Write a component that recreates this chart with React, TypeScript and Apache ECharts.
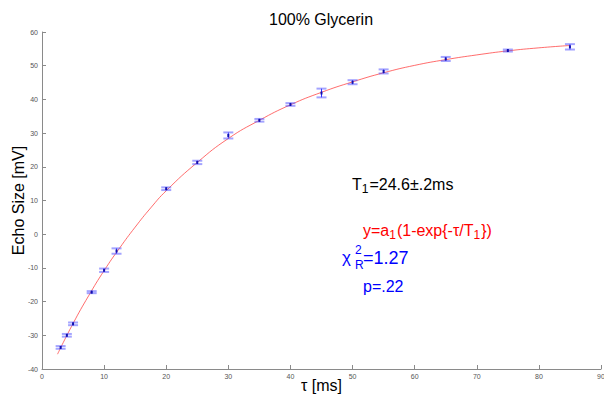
import React, { useEffect, useRef } from "react";
import * as echarts from "echarts";

const tau = [3, 4, 5, 8, 10, 12, 20, 25, 30, 35, 40, 45, 50, 55, 65, 75, 85];
const echo = [-33.6, -30.0, -26.6, -17.2, -10.7, -5.0, 13.5, 21.3, 29.3, 33.8, 38.5, 41.9, 45.1, 48.3, 52.0, 54.5, 55.6];
const err = [0.4, 0.4, 0.4, 0.3, 0.5, 0.8, 0.4, 0.5, 0.9, 0.4, 0.4, 1.3, 0.6, 0.6, 0.6, 0.3, 0.8];

const fitTau = [2.5, 5, 7.5, 10, 12.5, 15, 17.5, 20, 25, 30, 35, 40, 45, 50, 55, 60, 65, 70, 75, 80, 85];
const fitEcho = [-35.6, -26.5, -18.3, -10.8, -4.1, 2.1, 7.8, 12.9, 21.3, 28.4, 33.8, 38.4, 42.1, 45.2, 47.9, 50.1, 51.8, 53.2, 54.4, 55.3, 56.0];

const xTicks = { min: 0, max: 90, interval: 10 };
const yTicks = { min: -40, max: 60, interval: 10 };

const FONT = "'Liberation Sans', Arial, sans-serif";

export default function App() {
  const ref = useRef<HTMLDivElement>(null);
  useEffect(() => {
    if (!ref.current) return;
    const chart = echarts.init(ref.current, null, { renderer: "svg" });
    const pts = tau.map((t, i) => [t, echo[i], err[i]]);
    const fit = fitTau.map((t, i) => [t, fitEcho[i]]);
    const axisLine = { show: true, onZero: false, lineStyle: { color: "#8a8a8a", width: 1 } };
    const axisTick = { show: true, inside: true, length: 4, lineStyle: { color: "#8a8a8a" } };
    const axisLabel = { fontSize: 7, color: "#555", fontFamily: FONT, margin: 4 };
    chart.setOption({
      animation: false,
      backgroundColor: "#fff",
      title: {
        text: "100% Glycerin",
        left: 316,
        textAlign: "center",
        top: 6,
        textStyle: { fontSize: 16, fontWeight: "normal", color: "#000", fontFamily: FONT },
      },
      grid: { left: 42, right: 3, top: 32, bottom: 33, containLabel: false, outerBoundsMode: "none" },
      xAxis: {
        type: "value",
        min: xTicks.min,
        max: xTicks.max,
        interval: xTicks.interval,
        name: "τ [ms]",
        nameLocation: "middle",
        nameGap: 8,
        nameMoveOverlap: false,
        nameTextStyle: { fontSize: 16, color: "#000", fontFamily: FONT, verticalAlign: "top" },
        axisLine,
        axisTick,
        axisLabel,
        splitLine: { show: false },
      },
      yAxis: {
        type: "value",
        min: yTicks.min,
        max: yTicks.max,
        interval: yTicks.interval,
        name: "Echo Size [mV]",
        nameLocation: "middle",
        nameGap: 16,
        nameMoveOverlap: false,
        nameTextStyle: { fontSize: 16, color: "#000", fontFamily: FONT },
        axisLine,
        axisTick,
        axisLabel,
        splitLine: { show: false },
      },
      series: [
        {
          type: "line",
          data: fit,
          smooth: true,
          showSymbol: false,
          symbol: "none",
          lineStyle: { color: "rgba(255,60,60,0.75)", width: 1 },
          z: 2,
        },
        {
          type: "custom",
          data: pts,
          encode: { x: 0, y: 1 },
          z: 3,
          renderItem: (params: any, api: any) => {
            const x = api.value(0);
            const y = api.value(1);
            const e = api.value(2);
            const top = api.coord([x, y + e]);
            const bot = api.coord([x, y - e]);
            const c = api.coord([x, y]);
            const hw = 5;
            return {
              type: "group",
              children: [
                { type: "line", shape: { x1: top[0], y1: top[1], x2: bot[0], y2: bot[1] }, style: { stroke: "#2a2aff", lineWidth: 1 } },
                { type: "line", shape: { x1: top[0] - hw, y1: top[1], x2: top[0] + hw, y2: top[1] }, style: { stroke: "rgba(90,90,255,0.55)", lineWidth: 2 } },
                { type: "line", shape: { x1: bot[0] - hw, y1: bot[1], x2: bot[0] + hw, y2: bot[1] }, style: { stroke: "rgba(90,90,255,0.55)", lineWidth: 2 } },
                { type: "rect", shape: { x: c[0] - 1, y: c[1] - 1.5, width: 2, height: 3 }, style: { fill: "#1010b0" } },
              ],
            };
          },
        },
      ],
      graphic: [
        {
          type: "text",
          left: 352,
          top: 173,
          style: {
            text: "T{s|1}=24.6±.2ms",
            fontSize: 16,
            fill: "#000",
            fontFamily: FONT,
            lineHeight: 22,
            rich: { s: { fontSize: 12, fill: "#000", fontFamily: FONT, lineHeight: 22, verticalAlign: "bottom", padding: [0, 1, 0, 0] } },
          },
        },
        {
          type: "text",
          left: 363,
          top: 219,
          style: {
            text: "y=a{s|1}(1-exp{-τ/T{s|1}})",
            fontSize: 16,
            fill: "#ff0000",
            fontFamily: FONT,
            lineHeight: 22,
            rich: { s: { fontSize: 12, fill: "#ff0000", fontFamily: FONT, lineHeight: 22, verticalAlign: "bottom", padding: [0, 1, 0, 0] } },
          },
        },
        { type: "text", left: 342, top: 249, style: { text: "χ", fontSize: 17, fill: "#0000ff", fontFamily: FONT } },
        { type: "text", left: 355, top: 244, style: { text: "2", fontSize: 12, fill: "#0000ff", fontFamily: FONT } },
        { type: "text", left: 355, top: 259, style: { text: "R", fontSize: 12, fill: "#0000ff", fontFamily: FONT } },
        { type: "text", left: 363, top: 249, style: { text: "=1.27", fontSize: 18, fill: "#0000ff", fontFamily: FONT } },
        { type: "text", left: 363, top: 278, style: { text: "p=.22", fontSize: 16, fill: "#0000ff", fontFamily: FONT } },
      ],
    });
    return () => chart.dispose();
  }, []);
  return <div ref={ref} style={{ position: "fixed", left: 0, top: 0, width: 604, height: 402 }} />;
}
